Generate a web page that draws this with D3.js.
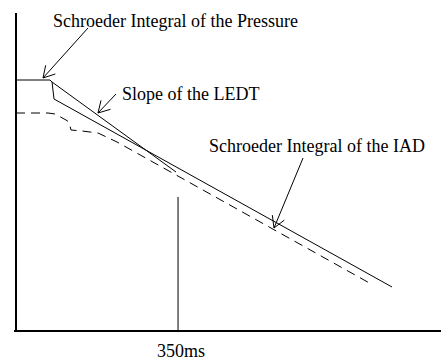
<!DOCTYPE html>
<html>
<head>
<meta charset="utf-8">
<script src="https://cdn.jsdelivr.net/npm/d3@7"></script>
<style>
  html, body { margin: 0; padding: 0; background: #fff; }
  svg { display: block; }
  text { font-family: "Liberation Serif", "Times New Roman", serif; font-size: 18px; fill: #000; }
</style>
</head>
<body>
<svg id="chart" width="441" height="360"></svg>
<script>
// ---- data (time in ms, level in dB) ----
const pressureTime  = [0, 73.4, 77.8, 82.1, 812.2];
const pressureLevel = [0, 0, -0.4, -3.8, -41.4];

const iadTime  = [0, 69.1, 84.2, 108, 114.5, 118.8, 142.6, 177.1, 218.2, 771.1];
const iadLevel = [-6.6, -6.6, -6.8, -8.0, -8.4, -10.0, -10.2, -10.6, -12.4, -41.0];

const ledtTime  = [77.8, 345.6];
const ledtLevel = [-0.4, -18.4];

const markerTime = 350;
const markerLevel = -23.4;
const markerLabel = "350ms";

const annotationLabels = ["Schroeder Integral of the Pressure", "Slope of the LEDT", "Schroeder Integral of the IAD"];
const labelTime   = [79.9, 229, 417];
const labelLevel  = [10.6, -4.0, -14.4];
const arrowFromTime  = [155.5, 216, 620];
const arrowFromLevel = [10.4, -2.8, -15.6];
const arrowToTime    = [58.3, 177.1, 557.3];
const arrowToLevel   = [0.4, -6.6, -29.6];

const xDomain = [0, 918];
const yDomain = [0, -50.2];
const yAxisTopLevel = 13.4;
const xAxisStartTime = -4.3;

// ---- scales ----
const svg = d3.select("#chart");
const x = d3.scaleLinear().domain(xDomain).range([16, 441]);
const y = d3.scaleLinear().domain(yDomain).range([80, 331]);

const line = d3.line().x(d => x(d[0])).y(d => y(d[1]));
const zip = (a, b) => a.map((v, i) => [v, b[i]]);

// axes
svg.append("line")
  .attr("x1", x(0)).attr("x2", x(0))
  .attr("y1", y(yAxisTopLevel)).attr("y2", y(yDomain[1]))
  .attr("stroke", "#000").attr("stroke-width", 2);
svg.append("line")
  .attr("x1", x(xAxisStartTime)).attr("x2", x(xDomain[1]))
  .attr("y1", y(yDomain[1])).attr("y2", y(yDomain[1]))
  .attr("stroke", "#000").attr("stroke-width", 2);

// marker
svg.append("line")
  .attr("x1", x(markerTime)).attr("x2", x(markerTime))
  .attr("y1", y(markerLevel)).attr("y2", y(yDomain[1]))
  .attr("stroke", "#000").attr("stroke-width", 1);
svg.append("text")
  .attr("x", x(markerTime) + 3).attr("y", 357)
  .attr("text-anchor", "middle")
  .text(markerLabel);

// curves
svg.append("path").datum(zip(pressureTime, pressureLevel))
  .attr("d", line).attr("fill", "none").attr("stroke", "#000").attr("stroke-width", 1);
svg.append("path").datum(zip(ledtTime, ledtLevel))
  .attr("d", line).attr("fill", "none").attr("stroke", "#000").attr("stroke-width", 1);
svg.append("path").datum(zip(iadTime, iadLevel))
  .attr("d", line).attr("fill", "none").attr("stroke", "#000").attr("stroke-width", 1)
  .attr("stroke-dasharray", "9,6");

// annotations
annotationLabels.forEach((t, i) => {
  svg.append("text").attr("x", x(labelTime[i])).attr("y", y(labelLevel[i])).text(t);
  const x1 = x(arrowFromTime[i]), y1 = y(arrowFromLevel[i]);
  const x2 = x(arrowToTime[i]), y2 = y(arrowToLevel[i]);
  svg.append("line").attr("x1", x1).attr("y1", y1).attr("x2", x2).attr("y2", y2)
    .attr("stroke", "#000").attr("stroke-width", 1);
  const ang = Math.atan2(y1 - y2, x1 - x2);
  const len = 13, spread = Math.PI / 6;
  [ang - spread, ang + spread].forEach(a => {
    svg.append("line")
      .attr("x1", x2).attr("y1", y2)
      .attr("x2", x2 + len * Math.cos(a)).attr("y2", y2 + len * Math.sin(a))
      .attr("stroke", "#000").attr("stroke-width", 1);
  });
});
</script>
</body>
</html>
